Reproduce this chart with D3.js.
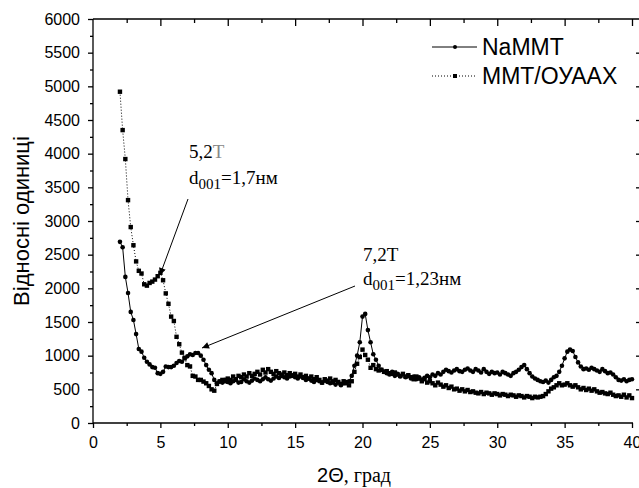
<!doctype html>
<html>
  <head>
    <meta charset="utf-8">
    <title>XRD NaMMT</title>
    <script src="https://cdnjs.cloudflare.com/ajax/libs/d3/7.8.5/d3.min.js"></script>
    <style>
      body { margin: 0; background: #fff; }
      .tick text { font-family: "Liberation Sans", Arial, sans-serif; font-size: 16px; fill: #000; }
    </style>
  </head>
  <body>
    <div id="chart"></div>
    <script>
      // measurement grid, 2..40 deg with 0.2 step
      const twoTheta = d3.range(0, 191).map(i => +(2 + i * 0.2).toFixed(1));

      // NaMMT
      const naMMT = [
        2690,2610,2170,1930,1650,1530,1320,1100,1060,970,
        910,870,830,820,740,730,760,840,830,830,
        850,890,920,910,970,990,1020,1010,1040,1040,
        1000,940,860,790,740,640,590,620,600,640,
        610,590,620,640,600,610,650,620,600,630,
        660,640,620,650,680,650,630,660,690,670,
        700,680,660,690,710,680,660,690,670,640,
        660,630,610,640,620,600,630,610,590,620,
        570,600,560,590,610,620,700,850,1000,1200,
        1580,1620,1380,1200,1020,940,850,790,760,740,
        720,760,700,730,690,720,680,700,660,690,
        650,680,640,670,700,680,720,700,740,720,
        760,790,770,750,780,800,770,760,790,810,
        780,760,800,780,750,800,760,730,760,740,
        750,720,760,740,720,700,740,760,790,830,
        860,800,740,690,660,640,620,610,630,600,
        640,680,700,760,850,960,1060,1090,1070,980,
        900,840,800,810,790,820,800,780,760,800,
        770,740,750,720,680,640,630,650,620,640,
        650
      ];

      // MMT/ОУААХ
      const mmtOuaax = [
        4920,4350,3920,3310,2910,2640,2400,2260,2220,2060,
        2040,2080,2100,2130,2180,2230,2120,1925,1770,1580,
        1515,1280,1170,1045,960,860,840,700,690,640,
        640,615,590,550,500,480,580,615,640,620,
        660,640,690,650,700,680,720,690,740,700,
        730,760,720,790,750,800,760,730,770,740,
        720,750,710,740,700,730,690,720,680,700,
        660,690,650,680,640,600,650,630,660,600,
        640,610,580,620,590,560,620,760,880,980,
        1090,1010,940,820,860,800,780,790,760,770,
        740,730,750,720,700,730,690,710,680,650,
        690,660,620,650,600,620,590,560,600,570,
        540,560,520,540,500,510,480,500,470,490,
        460,470,450,440,460,430,450,440,420,440,
        430,410,430,420,400,420,410,390,410,400,
        380,400,390,370,390,380,390,400,430,470,
        510,530,560,590,560,570,590,560,540,560,
        530,500,520,490,510,480,500,470,450,460,
        440,430,450,420,400,410,390,420,380,410,
        370
      ];

      const seriesNames = ["NaMMT", "MMT/ОУААХ"];
      const xMajor = d3.range(0, 41, 5);
      const xMinor = d3.range(2.5, 40, 5);
      const yMajor = d3.range(0, 6001, 500);
      const yMinor = d3.range(250, 6000, 500);

      const W = 639, H = 488;
      const svg = d3.select("#chart").append("svg")
        .attr("width", W).attr("height", H);

      const x = d3.scaleLinear().domain([0, 40]).range([93, 632]);
      const y = d3.scaleLinear().domain([0, 6000]).range([423, 19]);

      // bottom axis
      const gx = svg.append("g").attr("transform", "translate(0,423)");
      gx.call(d3.axisBottom(x).tickValues(xMajor).tickSize(5).tickPadding(9).tickFormat(d3.format("d")));
      gx.append("g").call(d3.axisBottom(x).tickValues(xMinor).tickSize(3).tickFormat(""))
        .select(".domain").remove();
      gx.select(".domain").attr("d", "M93,0H633");

      // left axis
      const gy = svg.append("g").attr("transform", "translate(93,0)");
      gy.call(d3.axisLeft(y).tickValues(yMajor).tickSize(5).tickPadding(8).tickFormat(d3.format("d")));
      gy.append("g").call(d3.axisLeft(y).tickValues(yMinor).tickSize(3).tickFormat(""))
        .select(".domain").remove();
      gy.select(".domain").attr("d", "M0,19V423");

      // top axis, ticks inside
      const gt = svg.append("g").attr("transform", "translate(0,19)");
      gt.call(d3.axisBottom(x).tickValues(xMajor.slice(1)).tickSize(7).tickFormat(""));
      gt.append("g").call(d3.axisBottom(x).tickValues(xMinor).tickSize(4).tickFormat(""))
        .select(".domain").remove();
      gt.select(".domain").attr("d", "M93,0H641");

      // right axis, ticks inside, line falls off the picture
      const gr = svg.append("g").attr("transform", "translate(641,0)");
      gr.call(d3.axisLeft(y).tickValues(yMajor.slice(1, -1)).tickSize(5).tickFormat(""));
      gr.select(".domain").remove();

      svg.selectAll(".domain, .tick line").attr("stroke", "#000").attr("stroke-width", 1.3);

      // data
      const data1 = twoTheta.map((t, i) => [t, naMMT[i]]);
      const data2 = twoTheta.map((t, i) => [t, mmtOuaax[i]]);
      const line = d3.line().x(d => x(d[0])).y(d => y(d[1]));

      svg.append("path").datum(data2).attr("d", line)
        .attr("fill", "none").attr("stroke", "#000").attr("stroke-width", 1)
        .attr("stroke-dasharray", "1,2");
      svg.append("g").selectAll("rect").data(data2).join("rect")
        .attr("x", d => x(d[0]) - 2.2).attr("y", d => y(d[1]) - 2.2)
        .attr("width", 4.4).attr("height", 4.4).attr("fill", "#000");

      svg.append("path").datum(data1).attr("d", line)
        .attr("fill", "none").attr("stroke", "#000").attr("stroke-width", 1);
      svg.append("g").selectAll("circle").data(data1).join("circle")
        .attr("cx", d => x(d[0])).attr("cy", d => y(d[1]))
        .attr("r", 2.3).attr("fill", "#000");

      // legend
      const leg = svg.append("g").attr("font-family", "Liberation Sans, Arial, sans-serif")
        .attr("font-size", 23);
      leg.append("line").attr("x1", 432).attr("x2", 477).attr("y1", 47).attr("y2", 47)
        .attr("stroke", "#000");
      leg.append("circle").attr("cx", 455).attr("cy", 47).attr("r", 2).attr("fill", "#000");
      leg.append("text").attr("x", 482).attr("y", 55).text(seriesNames[0]);
      leg.append("line").attr("x1", 432).attr("x2", 477).attr("y1", 76).attr("y2", 76)
        .attr("stroke", "#000").attr("stroke-dasharray", "1,2");
      leg.append("rect").attr("x", 453).attr("y", 74).attr("width", 4).attr("height", 4).attr("fill", "#000");
      leg.append("text").attr("x", 482).attr("y", 84).text(seriesNames[1]);

      // annotations
      svg.append("defs").append("marker")
        .attr("id", "arr").attr("viewBox", "0 0 10 10").attr("refX", 10).attr("refY", 5)
        .attr("markerWidth", 9).attr("markerHeight", 7).attr("markerUnits", "userSpaceOnUse")
        .attr("orient", "auto")
        .append("path").attr("d", "M0,0L10,5L0,10z").attr("fill", "#000");

      const ann = svg.append("g").attr("font-family", "Liberation Serif, Times New Roman, serif")
        .attr("font-size", 19);
      const t1 = ann.append("text").attr("x", 189).attr("y", 158);
      t1.append("tspan").text("5,2");
      t1.append("tspan").attr("fill", "#888").text("Т");
      const d1 = ann.append("text").attr("x", 189).attr("y", 184);
      d1.append("tspan").text("d");
      d1.append("tspan").attr("font-size", 15).attr("dy", 5).text("001");
      d1.append("tspan").attr("dy", -5).text("=1,7нм");

      ann.append("text").attr("x", 363).attr("y", 261).text("7,2Т");
      const d2 = ann.append("text").attr("x", 363).attr("y", 285);
      d2.append("tspan").text("d");
      d2.append("tspan").attr("font-size", 15).attr("dy", 5).text("001");
      d2.append("tspan").attr("dy", -5).text("=1,23нм");

      ann.append("line").attr("x1", 188).attr("y1", 199).attr("x2", 160).attr("y2", 275)
        .attr("stroke", "#000").attr("marker-end", "url(#arr)");
      ann.append("line").attr("x1", 355).attr("y1", 286).attr("x2", 202).attr("y2", 348)
        .attr("stroke", "#000").attr("marker-end", "url(#arr)");

      // axis titles
      svg.append("text")
        .attr("transform", "translate(29,221) rotate(-90)")
        .attr("text-anchor", "middle")
        .attr("font-family", "Liberation Sans, Arial, sans-serif").attr("font-size", 22)
        .text("Відносні одиниці");

      const xt = svg.append("text").attr("x", 354).attr("y", 482).attr("text-anchor", "middle")
        .attr("font-size", 20);
      xt.append("tspan").attr("font-family", "Liberation Sans, Arial, sans-serif").text("2Θ");
      xt.append("tspan").attr("font-family", "Liberation Serif, Times New Roman, serif").text(", град");
    </script>
  </body>
</html>
